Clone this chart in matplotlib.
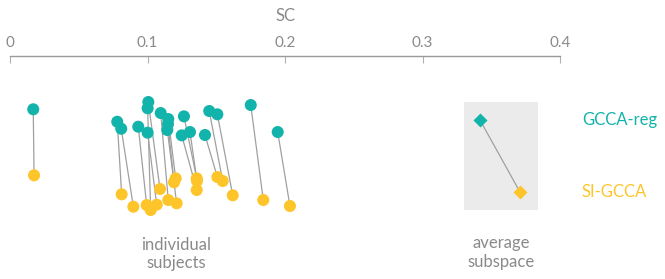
import matplotlib
matplotlib.use("Agg")
import matplotlib.pyplot as plt
from matplotlib.patches import Rectangle

plt.rcParams['font.family'] = ['Lato', 'DejaVu Sans']

# SC values per subject
gcca_reg = [0.0169, 0.0780, 0.0809, 0.0933, 0.1006, 0.1001, 0.1001, 0.1096, 0.1151,
            0.1144, 0.1149, 0.1265, 0.1249, 0.1309, 0.1418, 0.1449, 0.1508, 0.1751, 0.1947]
si_gcca = [0.0175, 0.0812, 0.0897, 0.0994, 0.1091, 0.1023, 0.1067, 0.1151, 0.1205,
           0.1212, 0.1193, 0.1358, 0.1358, 0.1360, 0.1508, 0.1547, 0.1620, 0.1842, 0.2036]
# vertical jitter within each row
jit_reg = [-0.149, 0.024, 0.121, 0.093, -0.25, -0.163, 0.176, -0.097, -0.014, 0.139,
           0.056, -0.051, 0.213, 0.167, 0.208, -0.125, -0.079, -0.208, 0.167]
jit_si = [-0.232, 0.032, 0.204, 0.181, -0.042, 0.25, 0.176, 0.111, -0.190, 0.157,
          -0.135, -0.190, -0.028, -0.153, -0.208, -0.153, 0.046, 0.111, 0.194]
# average subspace
avg_reg = 0.3418
avg_si = 0.3709

methods = ['GCCA-reg', 'SI-GCCA']
ticks = [0, 0.1, 0.2, 0.3, 0.4]
tick_labels = ['0', '0.1', '0.2', '0.3', '0.4']

TEAL = '#12b3ab'
YELLOW = '#fec52a'
GRAY = '#8a8a8a'

W, H = 665, 279
fig = plt.figure(figsize=(W / 100, H / 100), dpi=100)
ax = fig.add_axes([10 / W, 0, 550 / W, 1 - 56 / H])
ax.set_xlim(0, 0.4)
ax.set_ylim(2.208, -0.889)

for s in ['left', 'right', 'bottom']:
    ax.spines[s].set_visible(False)
ax.spines['top'].set_color('#9a9a9a')
ax.spines['top'].set_linewidth(1.0)
ax.xaxis.tick_top()
ax.set_xticks(ticks)
ax.set_xticklabels(tick_labels)
ax.tick_params(axis='x', direction='in', length=5, width=0.8, color='#b0b0b0',
               labelsize=11, labelcolor=GRAY, pad=4)
ax.set_yticks([])
ax.xaxis.set_label_position('top')
ax.set_xlabel('SC', fontsize=12, color=GRAY, labelpad=11)

# individual subjects
for xr, xs, jr, js in zip(gcca_reg, si_gcca, jit_reg, jit_si):
    ax.plot([xr, xs], [0 + jr, 1 + js], color='#a0a0a0', lw=0.9, zorder=1)
ax.scatter(gcca_reg, [0 + j for j in jit_reg], s=75, color=TEAL, zorder=3,
           edgecolors='none')
ax.scatter(si_gcca, [1 + j for j in jit_si], s=75, color=YELLOW, zorder=3,
           edgecolors='none')

# average subspace box
ax.add_patch(Rectangle((0.330, -0.25), 0.0538, 1.5, facecolor='#ebebeb',
                       edgecolor='none', zorder=0))
ax.plot([avg_reg, avg_si], [0, 1], color='#a0a0a0', lw=0.9, zorder=1)
ax.plot([avg_reg], [0], marker='D', ms=7.5, color=TEAL, mec='none', zorder=3)
ax.plot([avg_si], [1], marker='D', ms=7.5, color=YELLOW, mec='none', zorder=3)

# labels
ax.text(0.416, 0, methods[0], color=TEAL, fontsize=12, va='center', ha='left',
        clip_on=False)
ax.text(0.416, 1, methods[1], color=YELLOW, fontsize=12, va='center', ha='left',
        clip_on=False)
ax.text(0.121, 1.86, 'individual\nsubjects', color=GRAY, fontsize=12, ha='center',
        va='center', linespacing=1.2)
ax.text(0.357, 1.84, 'average\nsubspace', color=GRAY, fontsize=12, ha='center',
        va='center', linespacing=1.2)

fig.savefig('out.png', dpi=100)
